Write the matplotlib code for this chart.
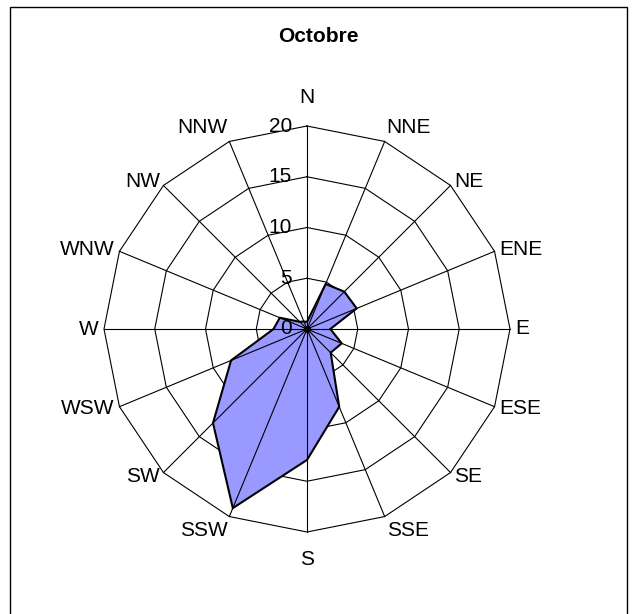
import numpy as np
import matplotlib.pyplot as plt
from matplotlib.patches import Rectangle, Polygon

plt.rcParams['font.family'] = ['Liberation Sans', 'DejaVu Sans']

# Données : fréquence des vents par direction (octobre)
directions = ['N', 'NNE', 'NE', 'ENE', 'E', 'ESE', 'SE', 'SSE',
              'S', 'SSW', 'SW', 'WSW', 'W', 'WNW', 'NW', 'NNW']
valeurs = [0.7, 4.8, 5.2, 5.3, 2.3, 3.7, 3.3, 8.3,
           12.9, 19.1, 13.1, 8.1, 3.3, 2.9, 1.0, 0.8]
graduations = [0, 5, 10, 15, 20]
titre = 'Octobre'

W, H = 636, 614
cx, cy = 307, 329        # centre en pixels
k = 10.15                # pixels par unité

fig = plt.figure(figsize=(W / 100, H / 100), dpi=100)
ax = fig.add_axes([0, 0, 1, 1])
ax.set_xlim(-cx / k, (W - cx) / k)
ax.set_ylim(-(H - cy) / k, cy / k)
ax.axis('off')

# cadre extérieur
fig.patches.append(Rectangle((10 / W, -0.01), 617 / W, 1 - 7 / H + 0.01,
                             transform=fig.transFigure, fill=False,
                             edgecolor='black', linewidth=1.0))

theta = np.deg2rad(np.arange(len(directions)) * 360 / len(directions))
sx, sy = np.sin(theta), np.cos(theta)

# anneaux polygonaux
for g in graduations[1:]:
    ax.plot(np.append(g * sx, g * sx[0]), np.append(g * sy, g * sy[0]),
            color='black', linewidth=0.8, zorder=1)

# série
v = np.array(valeurs)
ax.add_patch(Polygon(np.column_stack([v * sx, v * sy]), closed=True,
                     facecolor='#9999FF', edgecolor='none', zorder=2))

# rayons
rmax = graduations[-1]
for x, y in zip(sx, sy):
    ax.plot([0, rmax * x], [0, rmax * y], color='black', linewidth=0.8, zorder=3)

ax.add_patch(Polygon(np.column_stack([v * sx, v * sy]), closed=True,
                     facecolor='none', edgecolor='black', linewidth=1.5, zorder=4))
ax.plot(0, 0, 'o', color='black', markersize=4, zorder=5)

# étiquettes des directions
for name, x, y in zip(directions, sx, sy):
    ha = 'center' if abs(x) < 0.1 else ('left' if x > 0 else 'right')
    va = 'bottom' if y > 0.9 else ('top' if y < -0.9 else 'center')
    ox, oy = 5 * x, 5 * y
    if y > 0.99:
        oy += 14
    elif y < -0.99:
        oy -= 13
    ax.annotate(name, (rmax * x, rmax * y), xytext=(ox, oy),
                textcoords='offset pixels', ha=ha, va=va, fontsize=15)

# graduations de l'axe des valeurs
for g in graduations:
    ax.annotate(str(g), (0, g), xytext=(-15, 0), textcoords='offset pixels',
                ha='right', va='center', fontsize=15)

fig.text(318 / W, 1 - 37 / H, titre, ha='center', va='center',
         fontsize=15, fontweight='bold')

plt.savefig('out.png', dpi=100)
